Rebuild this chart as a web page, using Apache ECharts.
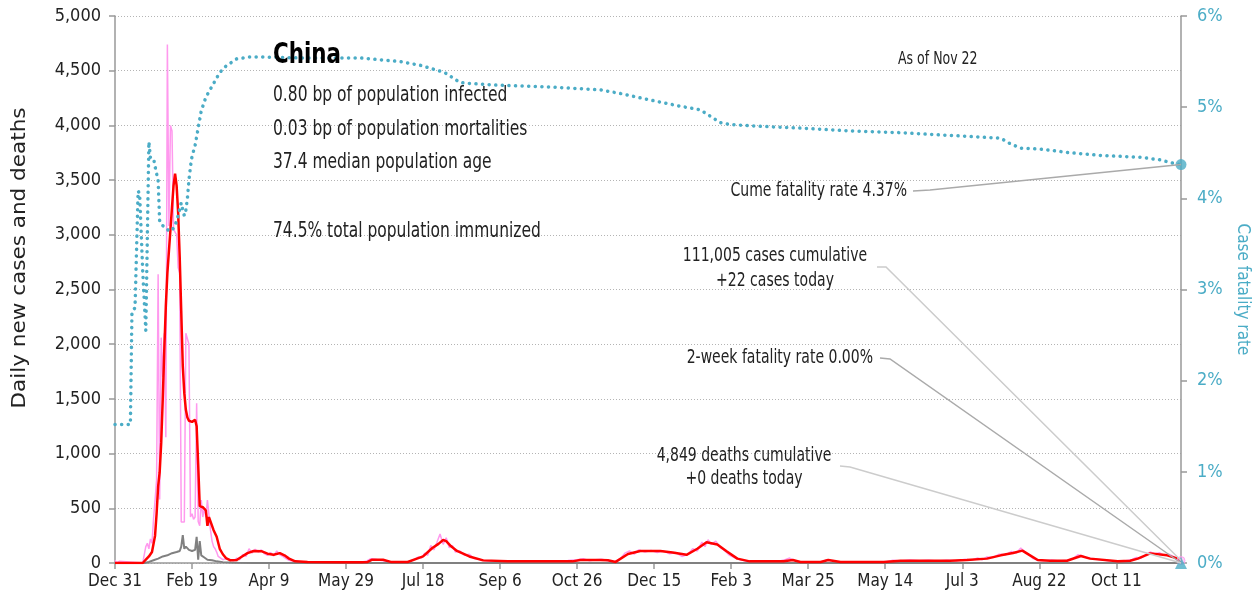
<!DOCTYPE html>
<html>
<head>
<meta charset="utf-8">
<script src="https://cdn.jsdelivr.net/npm/echarts@6/dist/echarts.min.js"></script>
<style>
  html, body { margin: 0; padding: 0; background: #fff; }
  #chart { width: 1255px; height: 604px; }
</style>
</head>
<body>
<div id="chart"></div>
<script>
// day 0 = Dec 31, 2019 ; last day 692 = Nov 22, 2021
var lastDay = 692;
var monthNames = ['Jan','Feb','Mar','Apr','May','Jun','Jul','Aug','Sep','Oct','Nov','Dec'];

// daily new cases [day, cases]
var dailyCases = [
  [0,27],[1,0],[2,0],[3,17],[4,0],[18,0],[19,77],[20,150],[21,180],[22,130],[23,220],[24,180],
  [25,400],[26,570],[27,760],[28,2640],[29,580],[30,2060],[31,1700],[32,2100],[33,1150],[34,4740],
  [35,3080],[36,4000],[37,3950],[38,3050],[39,3050],[40,3000],[41,2700],[42,2650],[43,375],[44,375],
  [45,375],[46,2100],[47,2100],[48,2000],[49,420],[50,450],[51,400],[52,420],[53,1460],[54,380],
  [55,340],[56,575],[57,420],[58,500],[59,420],[60,575],[61,570],[62,300],[63,200],[64,150],[65,130],
  [66,100],[67,60],[68,45],[70,30],[72,40],[75,30],[77,20],[79,45],[81,30],[83,80],[85,60],[87,130],
  [89,90],[91,125],[93,100],[95,120],[97,85],[99,70],[101,95],[103,65],[105,110],[107,75],[109,60],
  [111,40],[113,25],[116,15],[120,12],[125,8],[130,12],[135,5],[140,8],[146,6],[152,10],[158,5],
  [163,15],[166,40],[169,35],[172,25],[176,15],[180,8],[186,12],[190,10],[194,30],[197,55],[199,45],
  [201,90],[203,70],[205,160],[207,120],[209,190],[211,265],[213,170],[215,230],[217,140],[219,160],
  [221,100],[224,110],[227,70],[230,80],[233,40],[236,35],[240,20],[245,15],[250,20],[256,12],
  [262,18],[270,12],[278,20],[286,15],[294,22],[300,30],[304,40],[308,20],[312,30],[316,35],[320,20],
  [324,10],[328,40],[331,90],[334,110],[337,80],[340,120],[344,100],[348,115],[352,95],[356,110],
  [360,85],[364,95],[368,60],[372,80],[375,130],[378,110],[381,190],[383,150],[385,213],[387,170],
  [390,200],[393,140],[396,110],[399,70],[402,50],[406,30],[410,15],[415,20],[420,12],[425,18],
  [430,14],[435,30],[438,45],[441,20],[446,8],[452,12],[458,6],[462,30],[465,20],[470,10],[478,12],
  [486,8],[494,12],[500,10],[505,25],[510,18],[516,28],[522,20],[528,25],[534,18],[540,26],[546,20],
  [552,35],[556,25],[560,45],[563,30],[566,55],[570,50],[574,80],[578,75],[582,105],[585,90],
  [588,137],[590,110],[593,80],[596,40],[599,25],[603,20],[608,28],[613,18],[618,25],[622,40],
  [625,75],[628,65],[631,45],[635,38],[640,30],[645,20],[650,15],[655,18],[660,30],[663,50],
  [666,45],[669,75],[672,100],[675,85],[678,95],[681,70],[684,80],[687,60],[689,45],[691,30],[692,22]
];

// 7-day average of cases
var avgCases = [
  [0,0],[18,0],[20,30],[22,60],[24,100],[26,250],[27,450],[28,700],[29,830],[30,1100],[31,1500],
  [32,1950],[33,2350],[34,2650],[35,2850],[36,3050],[37,3250],[38,3450],[39,3560],[40,3450],
  [41,3200],[42,2800],[43,2300],[44,1800],[45,1550],[46,1400],[47,1330],[48,1300],[50,1290],
  [52,1310],[53,1250],[54,900],[55,520],[57,510],[59,480],[60,340],[61,420],[62,410],[64,300],
  [66,240],[68,130],[70,80],[72,45],[75,25],[79,28],[82,55],[86,90],[90,110],[95,108],[99,85],
  [103,75],[107,90],[110,70],[113,40],[117,15],[125,10],[146,6],[160,6],[164,10],[167,30],[174,30],
  [179,10],[190,9],[196,40],[200,60],[206,137],[210,175],[213,210],[215,200],[218,155],[222,110],
  [230,60],[239,24],[255,15],[297,15],[302,27],[315,27],[320,25],[325,10],[333,82],[341,110],
  [354,110],[362,95],[371,75],[378,130],[384,190],[391,170],[397,107],[404,40],[412,15],[434,15],
  [440,27],[445,9],[458,9],[463,27],[471,9],[499,9],[510,21],[542,21],[553,27],[566,40],[575,70],
  [583,92],[589,113],[594,70],[599,27],[607,21],[618,21],[627,64],[633,40],[651,15],[659,20],
  [664,40],[672,88],[683,70],[690,40],[692,15]
];

// daily deaths
var dailyDeaths = [
  [0,0],[19,0],[22,10],[25,25],[28,40],[31,60],[34,70],[37,90],[40,100],[42,110],[43,150],[44,255],
  [45,130],[46,150],[47,140],[48,120],[49,130],[50,110],[51,100],[52,120],[53,240],[54,30],[55,200],
  [56,70],[57,60],[58,50],[60,30],[63,25],[66,15],[70,8],[75,4],[80,2],[90,1],[100,0],[692,0]
];

// cumulative case fatality rate, %
var fatalityRate = [
  [0,1.52],[10,1.52],[11,2.75],[13,2.8],[15,4.08],[16,4.05],[18,3.2],[20,2.55],[22,4.62],[23,4.45],
  [25,4.44],[26,4.35],[27,4.27],[28,4.2],[29,3.74],[31,3.7],[33,3.68],[35,3.64],[37,3.65],[39,3.7],
  [41,3.81],[43,3.95],[44,3.87],[45,3.81],[46,3.87],[47,4.0],[48,4.2],[49,4.35],[50,4.46],[52,4.58],
  [54,4.77],[56,4.96],[59,5.11],[64,5.26],[68,5.38],[72,5.45],[79,5.53],[87,5.55],[95,5.55],
  [120,5.54],[159,5.54],[185,5.5],[198,5.46],[204,5.43],[214,5.38],[224,5.27],[230,5.26],[250,5.24],
  [284,5.22],[315,5.19],[328,5.15],[347,5.08],[367,5.01],[380,4.97],[393,4.83],[399,4.81],[419,4.79],
  [445,4.77],[477,4.74],[510,4.72],[542,4.69],[575,4.66],[581,4.6],[588,4.55],[601,4.54],[620,4.5],
  [640,4.47],[666,4.45],[679,4.42],[688,4.38],[692,4.37]
];

var infoLines = [
  '0.80 bp of population infected',
  '0.03 bp of population mortalities',
  '37.4 median population age',
  '74.5% total population immunized'
];

var FONT = "'Liberation Sans Narrow', 'Arial Narrow', 'DejaVu Sans Condensed', sans-serif";
var TEAL = '#4BACC6';
var AXIS = '#999';
var SQUEEZE = 0.82;

function dayLabel(d) {
  var dt = new Date(Date.UTC(2019, 11, 31) + d * 86400000);
  return monthNames[dt.getUTCMonth()] + ' ' + dt.getUTCDate();
}

var chart = echarts.init(document.getElementById('chart'));

var option = {
  animation: false,
  grid: { left: 115, right: 74, top: 16, bottom: 41, outerBoundsMode: 'none', containLabel: false },
  xAxis: {
    type: 'value', min: 0, max: lastDay, interval: 50,
    axisLine: { lineStyle: { color: AXIS, width: 1.5 } },
    axisTick: { show: true, length: 6, lineStyle: { color: AXIS, width: 1.5 } },
    axisLabel: { formatter: dayLabel, showMaxLabel: false, margin: 10, fontSize: 17, color: '#222', fontFamily: FONT },
    splitLine: { show: false }
  },
  yAxis: [
    {
      type: 'value', min: 0, max: 5000, interval: 500,
      axisLine: { show: true, lineStyle: { color: AXIS, width: 1.5 } },
      axisTick: { show: true, length: 6, lineStyle: { color: AXIS, width: 1.5 } },
      axisLabel: { margin: 14, fontSize: 18, color: '#222', fontFamily: FONT },
      splitLine: { show: true, lineStyle: { color: '#b4b4b4', width: 1, type: [1, 2] } }
    },
    {
      type: 'value', min: 0, max: 6, interval: 1, position: 'right',
      name: 'Case fatality rate', nameLocation: 'middle', nameRotate: -90, nameGap: 46,
      nameTextStyle: { color: TEAL, fontSize: 17, fontFamily: FONT },
      axisLine: { show: true, lineStyle: { color: AXIS, width: 1.5 } },
      axisTick: { show: true, length: 6, lineStyle: { color: AXIS, width: 1.5 } },
      axisLabel: { formatter: '{value}%', margin: 16, fontSize: 18, color: TEAL, fontFamily: FONT },
      splitLine: { show: false }
    }
  ],
  series: [
    { name: 'Daily cases', type: 'line', data: dailyCases, showSymbol: false, z: 2,
      lineStyle: { color: '#FF99EE', width: 1.5 } },
    { name: 'Daily deaths', type: 'line', data: dailyDeaths, showSymbol: false, z: 3,
      lineStyle: { color: '#808080', width: 2 } },
    { name: '7-day average', type: 'line', data: avgCases, showSymbol: false, z: 4,
      lineStyle: { color: '#FF0000', width: 2.5 } },
    { name: 'Case fatality rate', type: 'line', yAxisIndex: 1, data: fatalityRate, showSymbol: false, z: 5,
      lineStyle: { color: TEAL, width: 3.5, type: [0.1, 6.5], cap: 'round' } },
    { type: 'scatter', yAxisIndex: 1, z: 6, symbol: 'circle', symbolSize: 11,
      itemStyle: { color: TEAL }, data: [fatalityRate[fatalityRate.length - 1]] },
    { type: 'scatter', yAxisIndex: 1, z: 6, symbol: 'triangle', symbolSize: 12,
      itemStyle: { color: TEAL }, data: [[lastDay, 0]] },
    { type: 'scatter', z: 5, symbol: 'circle', symbolSize: 8,
      itemStyle: { color: 'rgba(255,153,238,0.6)', borderColor: '#FF99EE' },
      data: [dailyCases[dailyCases.length - 1]] }
  ]
};

chart.setOption(option);

// annotation texts and leader lines
var cfrEnd = chart.convertToPixel({ seriesIndex: 3 }, fatalityRate[fatalityRate.length - 1]);
var casesEnd = chart.convertToPixel({ seriesIndex: 0 }, dailyCases[dailyCases.length - 1]);
var deathsEnd = chart.convertToPixel({ seriesIndex: 1 }, dailyDeaths[dailyDeaths.length - 1]);
var twoWeekEnd = chart.convertToPixel({ seriesIndex: 5 }, [lastDay, 0]);

function txt(s, x, y, size, align, extra) {
  var st = { text: s, fontSize: size, fontFamily: FONT, fill: '#222', align: align || 'left', verticalAlign: 'middle' };
  if (extra) { for (var k in extra) st[k] = extra[k]; }
  return { type: 'text', x: x, y: y, scaleX: SQUEEZE, z: 100, silent: true, style: st };
}
function leader(points, color) {
  return { type: 'polyline', z: 90, silent: true, shape: { points: points },
    style: { stroke: color, lineWidth: 1.5, fill: null } };
}

var infoY = [96, 130, 163, 232];
var graphics = [
  txt('China', 273, 55, 29, 'left', { fontWeight: 'bold', fill: '#000' }),
  txt('As of Nov 22', 898, 60, 17, 'left'),
  txt('Cume fatality rate 4.37%', 907, 191, 19, 'right'),
  txt('111,005 cases cumulative', 775, 256, 19, 'center'),
  txt('+22 cases today', 775, 281, 19, 'center'),
  txt('2-week fatality rate 0.00%', 873, 358, 19, 'right'),
  txt('4,849 deaths cumulative', 744, 456, 19, 'center'),
  txt('+0 deaths today', 744, 479, 19, 'center'),
  leader([[913, 191], [930, 190], cfrEnd], '#aaa'),
  leader([[877, 267], [886, 267], casesEnd], '#ccc'),
  leader([[880, 358], [890, 359], twoWeekEnd], '#aaa'),
  leader([[840, 466], [850, 467], deathsEnd], '#ccc'),
  { type: 'text', x: 20, y: 258, rotation: Math.PI / 2, z: 100, silent: true,
    style: { text: 'Daily new cases and deaths', fontSize: 19, fontFamily: FONT, fill: '#222',
      align: 'center', verticalAlign: 'middle' }, scaleX: 1.26 }
];
for (var i = 0; i < infoLines.length; i++) {
  graphics.push(txt(infoLines[i], 273, infoY[i], 21, 'left'));
}

chart.setOption({ graphic: graphics });
</script>
</body>
</html>
